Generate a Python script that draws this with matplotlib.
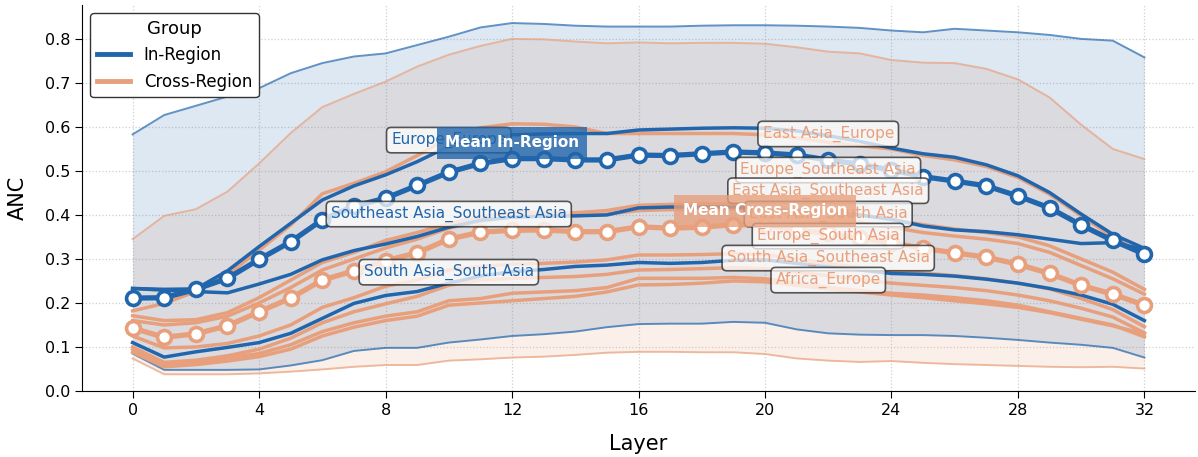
import matplotlib
matplotlib.use("Agg")
import matplotlib.pyplot as plt
from matplotlib.lines import Line2D
import numpy as np

layers = list(range(33))

# Mean curves
mean_in = [0.211, 0.212, 0.231, 0.256, 0.299, 0.339, 0.389, 0.420, 0.438, 0.467, 0.497,
           0.517, 0.528, 0.528, 0.525, 0.525, 0.536, 0.535, 0.539, 0.543, 0.541, 0.536,
           0.525, 0.515, 0.502, 0.487, 0.477, 0.466, 0.443, 0.416, 0.377, 0.342, 0.311]
mean_cross = [0.143, 0.122, 0.130, 0.148, 0.180, 0.211, 0.252, 0.273, 0.296, 0.314, 0.345,
              0.361, 0.365, 0.366, 0.362, 0.362, 0.373, 0.370, 0.372, 0.378, 0.377, 0.366,
              0.358, 0.347, 0.337, 0.324, 0.314, 0.304, 0.288, 0.267, 0.240, 0.220, 0.195]

# Envelope bands
in_upper = [0.583, 0.627, 0.648, 0.669, 0.688, 0.722, 0.745, 0.760, 0.767, 0.786, 0.805,
            0.826, 0.836, 0.834, 0.830, 0.828, 0.828, 0.828, 0.830, 0.831, 0.831, 0.830,
            0.828, 0.825, 0.819, 0.815, 0.823, 0.819, 0.815, 0.809, 0.800, 0.796, 0.758]
in_lower = [0.085, 0.048, 0.048, 0.048, 0.049, 0.058, 0.070, 0.091, 0.098, 0.098, 0.110,
            0.117, 0.125, 0.129, 0.135, 0.145, 0.152, 0.153, 0.153, 0.157, 0.155, 0.140,
            0.131, 0.128, 0.127, 0.127, 0.125, 0.121, 0.116, 0.110, 0.105, 0.098, 0.076]
cross_upper = [0.345, 0.398, 0.413, 0.453, 0.517, 0.586, 0.645, 0.675, 0.703, 0.737, 0.764,
               0.784, 0.800, 0.799, 0.794, 0.790, 0.792, 0.790, 0.791, 0.791, 0.789, 0.781,
               0.771, 0.767, 0.752, 0.746, 0.745, 0.732, 0.708, 0.667, 0.605, 0.550, 0.527]
cross_lower = [0.074, 0.038, 0.038, 0.038, 0.040, 0.044, 0.049, 0.055, 0.059, 0.059, 0.069,
               0.072, 0.076, 0.078, 0.082, 0.087, 0.089, 0.089, 0.088, 0.088, 0.084, 0.074,
               0.069, 0.066, 0.068, 0.064, 0.061, 0.059, 0.057, 0.055, 0.054, 0.055, 0.051]

# Individual in-region pairs
europe_europe = [0.233, 0.231, 0.232, 0.273, 0.328, 0.381, 0.434, 0.466, 0.491, 0.521, 0.556,
                 0.575, 0.582, 0.584, 0.585, 0.585, 0.593, 0.595, 0.597, 0.598, 0.597, 0.591,
                 0.580, 0.567, 0.552, 0.539, 0.531, 0.514, 0.489, 0.451, 0.402, 0.356, 0.324]
sea_sea = [0.233, 0.229, 0.226, 0.223, 0.243, 0.265, 0.298, 0.319, 0.334, 0.351, 0.372,
           0.388, 0.395, 0.397, 0.398, 0.400, 0.416, 0.418, 0.418, 0.418, 0.415, 0.410,
           0.405, 0.400, 0.390, 0.375, 0.366, 0.362, 0.355, 0.345, 0.335, 0.337, 0.322]
sa_sa = [0.110, 0.077, 0.089, 0.099, 0.110, 0.131, 0.165, 0.199, 0.217, 0.226, 0.245,
         0.261, 0.271, 0.276, 0.283, 0.286, 0.292, 0.290, 0.292, 0.297, 0.298, 0.290,
         0.282, 0.275, 0.267, 0.265, 0.261, 0.254, 0.245, 0.233, 0.218, 0.197, 0.160]

# Individual cross-region pairs
eastasia_europe = [0.182, 0.199, 0.226, 0.264, 0.320, 0.377, 0.448, 0.472, 0.498, 0.535, 0.575,
                   0.598, 0.607, 0.606, 0.600, 0.585, 0.585, 0.585, 0.585, 0.585, 0.582, 0.575,
                   0.565, 0.557, 0.550, 0.535, 0.525, 0.510, 0.485, 0.447, 0.398, 0.350, 0.310]
europe_sea = [0.171, 0.160, 0.162, 0.178, 0.212, 0.252, 0.292, 0.315, 0.342, 0.360, 0.380,
              0.397, 0.405, 0.405, 0.405, 0.410, 0.422, 0.424, 0.425, 0.425, 0.422, 0.415,
              0.408, 0.400, 0.390, 0.378, 0.368, 0.360, 0.350, 0.330, 0.300, 0.270, 0.231]
eastasia_sea = [0.160, 0.150, 0.155, 0.170, 0.200, 0.235, 0.275, 0.300, 0.325, 0.345, 0.370,
                0.385, 0.395, 0.398, 0.398, 0.402, 0.410, 0.412, 0.413, 0.414, 0.410, 0.402,
                0.393, 0.383, 0.372, 0.360, 0.352, 0.345, 0.335, 0.315, 0.285, 0.255, 0.220]
eastasia_sa = [0.125, 0.098, 0.100, 0.108, 0.125, 0.150, 0.190, 0.212, 0.238, 0.252, 0.275,
               0.283, 0.288, 0.290, 0.293, 0.298, 0.309, 0.309, 0.310, 0.312, 0.310, 0.300,
               0.290, 0.280, 0.272, 0.268, 0.262, 0.255, 0.245, 0.232, 0.210, 0.185, 0.146]
europe_sa = [0.100, 0.065, 0.070, 0.080, 0.095, 0.120, 0.155, 0.180, 0.198, 0.215, 0.240,
             0.252, 0.256, 0.258, 0.260, 0.265, 0.275, 0.276, 0.278, 0.280, 0.278, 0.270,
             0.262, 0.253, 0.245, 0.240, 0.235, 0.228, 0.218, 0.205, 0.188, 0.168, 0.132]
sa_sea = [0.095, 0.060, 0.065, 0.075, 0.085, 0.105, 0.135, 0.155, 0.170, 0.180, 0.205,
          0.210, 0.222, 0.225, 0.228, 0.235, 0.256, 0.256, 0.256, 0.258, 0.255, 0.245,
          0.235, 0.228, 0.222, 0.218, 0.212, 0.205, 0.195, 0.180, 0.165, 0.150, 0.123]
africa_europe = [0.088, 0.055, 0.060, 0.068, 0.078, 0.095, 0.125, 0.145, 0.160, 0.170, 0.195,
                 0.200, 0.205, 0.210, 0.215, 0.225, 0.241, 0.242, 0.245, 0.250, 0.248, 0.240,
                 0.232, 0.225, 0.218, 0.212, 0.205, 0.198, 0.190, 0.178, 0.163, 0.148, 0.130]

in_names = ["Europe_Europe", "Southeast Asia_Southeast Asia", "South Asia_South Asia"]
in_series = [europe_europe, sea_sea, sa_sa]
in_label_y = [0.570, 0.402, 0.270]

cross_names = ["East Asia_Europe", "Europe_Southeast Asia", "East Asia_Southeast Asia",
               "East Asia_South Asia", "Europe_South Asia", "South Asia_Southeast Asia",
               "Africa_Europe"]
cross_series = [eastasia_europe, europe_sea, eastasia_sea, eastasia_sa, europe_sa, sa_sea,
                africa_europe]
cross_label_y = [0.584, 0.502, 0.455, 0.402, 0.352, 0.302, 0.252]

BLUE = "#2166ac"
ORANGE = "#e8a07c"

plt.rcParams["font.family"] = "DejaVu Sans"
fig = plt.figure(figsize=(11.98, 4.57), dpi=100)
ax = fig.add_axes([82 / 1198, 1 - 391 / 457, (1195 - 82) / 1198, (391 - 5) / 457])

x = np.array(layers)
ax.fill_between(x, cross_lower, cross_upper, color=ORANGE, alpha=0.16, lw=0, zorder=1)
ax.fill_between(x, in_lower, in_upper, color=BLUE, alpha=0.15, lw=0, zorder=1)
for s in (cross_upper, cross_lower):
    ax.plot(x, s, color=ORANGE, lw=1.4, alpha=0.7, zorder=2)
for s in (in_upper, in_lower):
    ax.plot(x, s, color=BLUE, lw=1.4, alpha=0.7, zorder=2)

for s in cross_series:
    ax.plot(x, s, color=ORANGE, lw=2.5, zorder=3)
for s in in_series:
    ax.plot(x, s, color=BLUE, lw=2.5, zorder=3)

ax.plot(x, mean_cross, color=ORANGE, lw=3.8, marker="o", ms=10, mfc="white",
        mec=ORANGE, mew=2.6, zorder=5)
ax.plot(x, mean_in, color=BLUE, lw=3.8, marker="o", ms=10, mfc="white",
        mec=BLUE, mew=2.6, zorder=5)

box = dict(boxstyle="round,pad=0.3", fc="white", alpha=0.75, ec="#222222", lw=1.2)
for name, yv in zip(in_names, in_label_y):
    ax.text(10, yv, name, color=BLUE, fontsize=11, ha="center", va="center",
            bbox=box, zorder=6)
for name, yv in zip(cross_names, cross_label_y):
    ax.text(22, yv, name, color=ORANGE, fontsize=11, ha="center", va="center",
            bbox=box, zorder=6)

ax.text(12, 0.564, "Mean In-Region", color="white", fontsize=11, fontweight="bold",
        ha="center", va="center", zorder=7,
        bbox=dict(boxstyle="square,pad=0.55", fc=BLUE, ec="none", alpha=0.8))
ax.text(20, 0.409, "Mean Cross-Region", color="white", fontsize=11, fontweight="bold",
        ha="center", va="center", zorder=7,
        bbox=dict(boxstyle="square,pad=0.55", fc=ORANGE, ec="none", alpha=0.8))

ax.set_xlim(-1.6, 33.6)
ax.set_ylim(0, 0.877)
ax.set_xticks(range(0, 33, 4))
ax.set_yticks(np.arange(0, 0.81, 0.1))
ax.set_yticklabels([f"{v:.1f}" for v in np.arange(0, 0.81, 0.1)])
ax.tick_params(labelsize=11.5, length=5)
ax.grid(True, ls=":", color="#c4c4c4", lw=0.9, alpha=0.8)
ax.set_axisbelow(True)
for sp in ("top", "right"):
    ax.spines[sp].set_visible(False)
ax.set_xlabel("Layer", fontsize=15, labelpad=12)
ax.set_ylabel("ANC", fontsize=15, labelpad=12)

handles = [Line2D([0], [0], color=BLUE, lw=3.5), Line2D([0], [0], color=ORANGE, lw=3.5)]
leg = ax.legend(handles, ["In-Region", "Cross-Region"], title="Group", loc="upper left",
                bbox_to_anchor=(0.0, 1.0), fontsize=12, title_fontsize=13,
                frameon=True, fancybox=True, framealpha=1.0, edgecolor="#333333")
leg.set_zorder(10)

fig.savefig("out.png", dpi=100)
